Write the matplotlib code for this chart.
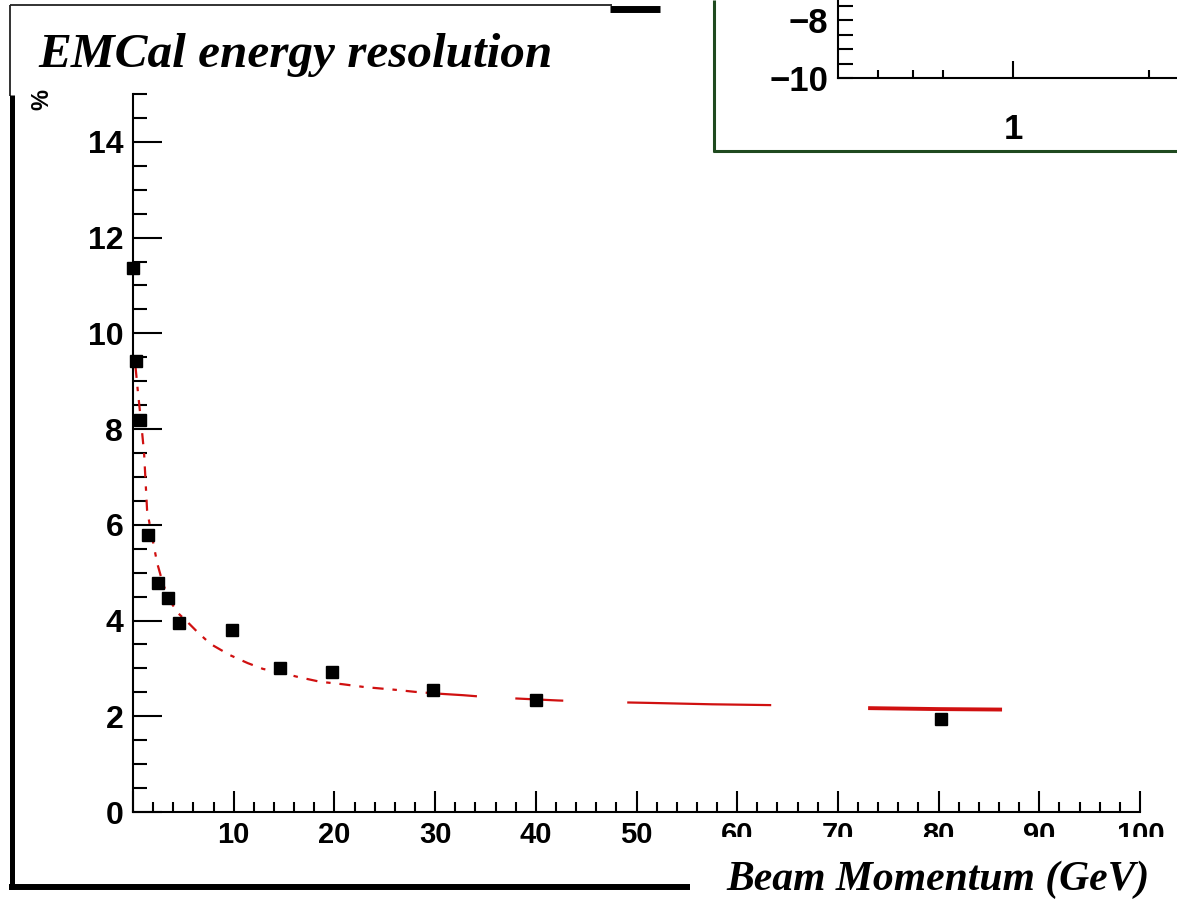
import matplotlib
matplotlib.use('Agg')
import matplotlib.pyplot as plt
from matplotlib.lines import Line2D
from matplotlib.patches import Rectangle
from matplotlib.ticker import MultipleLocator, NullFormatter, FixedLocator
from matplotlib.transforms import blended_transform_factory
import numpy as np

# ---------------- data ----------------
momentum = [0.0, 0.3, 0.7, 1.5, 2.5, 3.5, 4.6, 9.8, 14.6, 19.8, 29.8, 40.0, 80.2]
resolution = [11.36, 9.42, 8.18, 5.78, 4.78, 4.47, 3.95, 3.80, 3.01, 2.93, 2.55, 2.34, 1.94]

fit_x = [0.25, 0.5, 0.85, 1.1, 1.4, 1.8, 2.4, 3.0, 3.7, 4.5, 5.5, 6.4, 7.7, 9.6,
         11.4, 12.9, 14.9, 16.4, 18.6, 20.8, 23.0, 26.2, 28.0, 30.5, 32.8, 35.2,
         38.2, 42.2, 46.2, 51.1, 57.5, 64.4, 73.0, 80.0, 86.3]
fit_y = [9.30, 8.75, 8.05, 7.50, 6.30, 5.85, 5.20, 4.75, 4.40, 4.15, 3.95, 3.76,
         3.51, 3.28, 3.11, 2.99, 2.90, 2.82, 2.72, 2.67, 2.61, 2.55, 2.51, 2.47,
         2.44, 2.40, 2.37, 2.33, 2.30, 2.28, 2.25, 2.23, 2.17, 2.15, 2.14]

x_major = [0, 10, 20, 30, 40, 50, 60, 70, 80, 90, 100]
x_labels = ['', '10', '20', '30', '40', '50', '60', '70', '80', '90', '100']
y_major = [0, 2, 4, 6, 8, 10, 12, 14]
y_labels = ['0', '2', '4', '6', '8', '10', '12', '14']

inset_y_major = [-10, -8]
inset_y_labels = ['\u221210', '\u22128']
inset_y_minor = [-9.5, -9.0, -8.5, -7.5]
inset_x_major = [1]
inset_x_labels = ['1']
inset_x_minor = [0.5, 0.6, 0.7, 2.0]

title = 'EMCal energy resolution'
xlabel = 'Beam Momentum (GeV)'
ylabel = '%'

# ---------------- figure ----------------
W, H = 1177, 901
plt.rcParams['font.family'] = ['Liberation Sans', 'DejaVu Sans']
plt.rcParams['font.weight'] = 'bold'
fig = plt.figure(figsize=(W / 100, H / 100), dpi=100)
fig.patch.set_facecolor('white')

def px(x, y):
    return x / W, 1 - y / H

red = '#d01010'

# main axes
l, b = px(133, 812)
r, t = px(1140, 94)
ax = fig.add_axes([l, b, r - l, t - b])
ax.set_xlim(0, 100)
ax.set_ylim(0, 15)
for s in ['top', 'right']:
    ax.spines[s].set_visible(False)
for s in ['left', 'bottom']:
    ax.spines[s].set_linewidth(1.5)

ax.set_yticks(y_major, y_labels)
ax.yaxis.set_minor_locator(MultipleLocator(0.5))
ax.set_xticks(x_major)
ax.xaxis.set_minor_locator(MultipleLocator(2))
ax.tick_params(axis='y', which='major', direction='in', length=21, width=1.5,
               pad=7, labelsize=23)
ax.tick_params(axis='y', which='minor', direction='in', length=10, width=1.5)
ax.tick_params(axis='x', which='major', direction='in', length=15, width=1.5,
               labelbottom=False)
ax.tick_params(axis='x', which='minor', direction='in', length=7, width=1.5)

# x tick labels drawn manually
trans = blended_transform_factory(ax.transData, ax.transAxes)
for v, lab in zip(x_major, x_labels):
    ax.text(v, -0.032, lab, transform=trans, ha='center', va='center',
            fontsize=21, fontweight='bold', clip_on=False)

# the right-hand tick labels are cut off at their lower part in the original
x0, y0 = px(690, 856)
x1, y1 = px(1177, 837)
fig.add_artist(Rectangle((x0, y0), x1 - x0, y1 - y0, transform=fig.transFigure,
                         facecolor='white', edgecolor='none', zorder=10))

# fit curve
fx = np.array(fit_x)
fy = np.array(fit_y)
ma = fx <= 30.5
mb = (fx >= 30.5) & (fx <= 64.4)
mc = fx >= 73
ax.plot(fx[ma], fy[ma], color=red, lw=1.6, dashes=(5, 4, 2, 4), zorder=3)
ax.plot(fx[mb], fy[mb], color=red, lw=1.6,
        dashes=(16.6, 17.3, 21.6, 28.8, 64.8, 46, 50.4, 100), zorder=3)
ax.plot(fx[mc], fy[mc], color=red, lw=2.8, solid_capstyle='butt', zorder=3)

# data points
ax.plot(momentum, resolution, 's', color='black', markersize=8.5,
        clip_on=False, zorder=5)

# ---------------- inset (partially visible) ----------------
il, ib = px(838, 78)
ir, it = px(1177, 0)
axi = fig.add_axes([il, ib, ir - il, it - ib])
axi.set_xscale('log')
axi.set_xlim(10 ** -0.389, 10 ** 0.364)
axi.set_ylim(-10, -7.31)
for s in ['top', 'right']:
    axi.spines[s].set_visible(False)
for s in ['left', 'bottom']:
    axi.spines[s].set_linewidth(1.5)
axi.set_yticks(inset_y_major, inset_y_labels)
axi.yaxis.set_minor_locator(FixedLocator(inset_y_minor))
axi.set_xticks(inset_x_major, inset_x_labels)
axi.xaxis.set_minor_locator(FixedLocator(inset_x_minor))
axi.xaxis.set_minor_formatter(NullFormatter())
axi.tick_params(axis='y', which='both', direction='in', length=11, width=1.5,
                pad=7, labelsize=25)
axi.tick_params(axis='x', which='major', direction='in', length=12, width=1.5,
                pad=25, labelsize=25)
axi.tick_params(axis='x', which='minor', direction='in', length=6, width=1.5)

# ---------------- texts ----------------
x0, y0 = px(38, 55)
fig.text(x0, y0, title, family=['Liberation Serif', 'DejaVu Serif'],
         style='italic', weight='bold', fontsize=35.5, ha='left', va='center')
x0, y0 = px(42, 100)
fig.text(x0, y0, ylabel, rotation=90, fontsize=17, ha='center', va='center')
x0, y0 = px(1150, 880)
fig.text(x0, y0, xlabel, family=['Liberation Serif', 'DejaVu Serif'],
         style='italic', weight='bold', fontsize=30, ha='right', va='center')

# ---------------- pad frame decorations ----------------
def fline(x0, y0, x1, y1, lw, color='black'):
    a0 = px(x0, y0)
    a1 = px(x1, y1)
    fig.add_artist(Line2D([a0[0], a1[0]], [a0[1], a1[1]], transform=fig.transFigure,
                          lw=lw, color=color, solid_capstyle='butt'))

fline(10, 5, 612, 5, 1.3, '#222222')
fline(610, 8.5, 660, 8.5, 5.0)
fline(10, 5, 10, 96, 1.3, '#222222')
fline(11.5, 95, 11.5, 889, 3.6)
fline(9, 887, 690, 887, 4.3)
green = '#1f4a1f'
fline(713.5, 0, 713.5, 151.5, 2.2, green)
fline(712.5, 150.5, 1177, 150.5, 2.2, green)

fig.savefig('out.png', dpi=100, facecolor='white')
